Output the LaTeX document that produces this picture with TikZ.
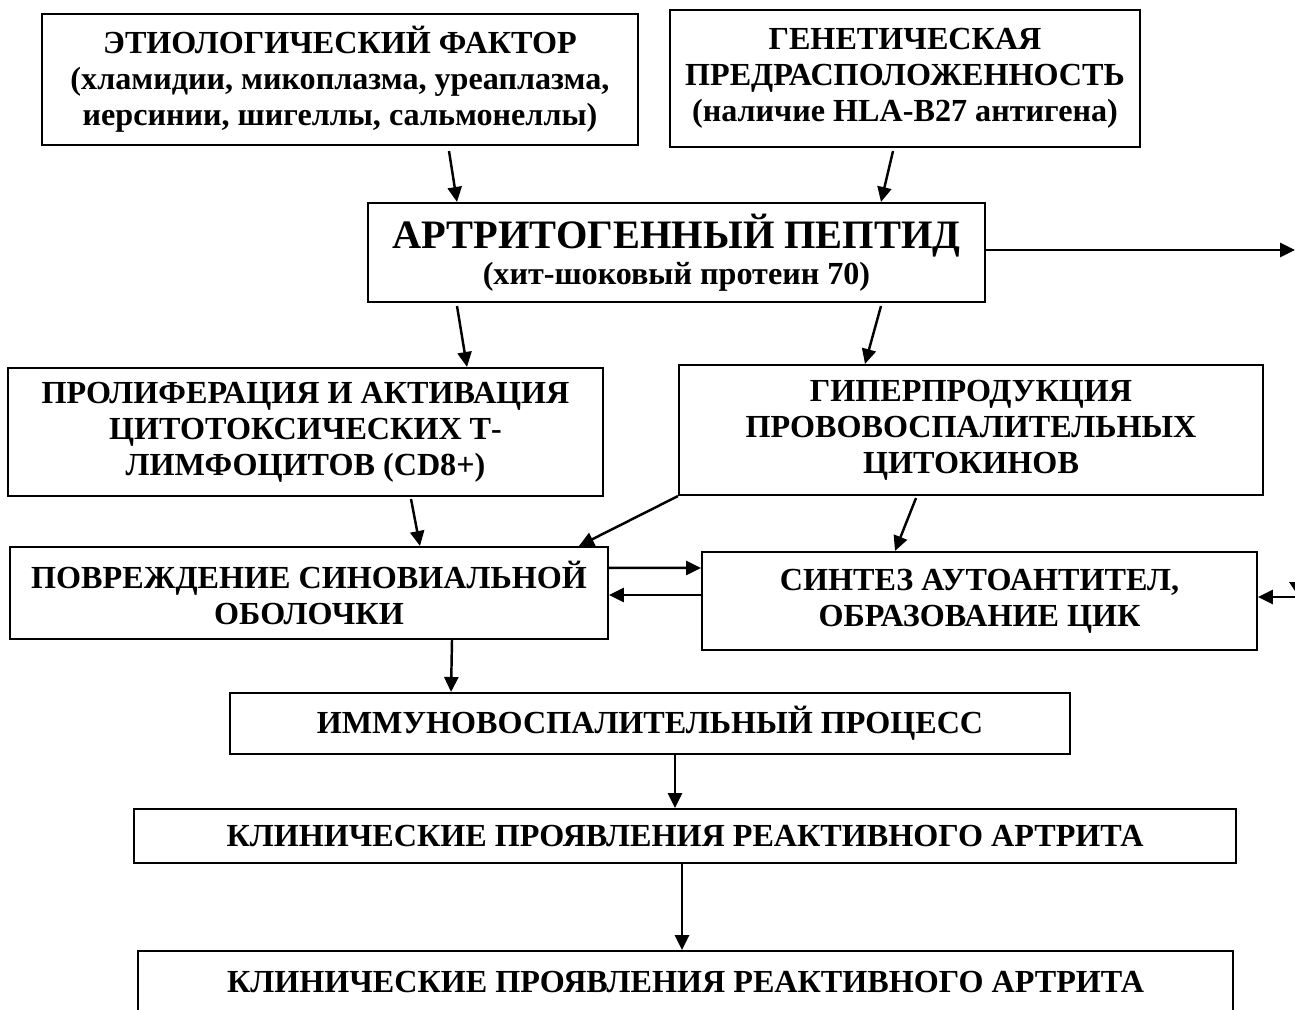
\documentclass[tikz,border=0pt]{standalone}
\usepackage{fontspec}
\setmainfont{Liberation Serif}
\usetikzlibrary{arrows.meta, calc, positioning}

\begin{document}
\begin{tikzpicture}[x=0.02cm, y=-0.02cm,
  box/.style={draw, line width=1.2pt, inner sep=0pt, align=center,
    font=\fontsize{18.3}{20.6}\selectfont\bfseries},
  arr/.style={line width=1.4pt, -{Triangle[length=8.5pt, width=8pt]}}]

\useasboundingbox (0,0) rectangle (1295,1010);
\clip (0,0) rectangle (1295,1010);

% top row
\node[box, minimum width=11.92cm, minimum height=2.62cm] (etio) at (340,79.5)
  {ЭТИОЛОГИЧЕСКИЙ ФАКТОР\\(хламидии, микоплазма, уреаплазма,\\иерсинии, шигеллы, сальмонеллы)};
\node[box, minimum width=9.4cm, minimum height=2.74cm] (gen) at (905,78.5)
  {ГЕНЕТИЧЕСКАЯ\\ПРЕДРАСПОЛОЖЕННОСТЬ\\(наличие HLA-B27 антигена)};
\node[box, minimum width=12.34cm, minimum height=1.98cm] (pept) at (676.5,252.5)
  {{\fontsize{23}{28}\selectfont АРТРИТОГЕННЫЙ ПЕПТИД}\\(хит-шоковый протеин 70)};

% middle
\node[box, minimum width=11.9cm, minimum height=2.56cm] (prolif) at (305.5,432)
  {ПРОЛИФЕРАЦИЯ И АКТИВАЦИЯ\\ЦИТОТОКСИЧЕСКИХ Т-\\ЛИМФОЦИТОВ (CD8+)};
\node[box, minimum width=11.68cm, minimum height=2.6cm] (hyper) at (971,430)
  {ГИПЕРПРОДУКЦИЯ\\ПРОВОВОСПАЛИТЕЛЬНЫХ\\ЦИТОКИНОВ};
\node[box, minimum width=11.96cm, minimum height=1.84cm] (damage) at (309,593)
  {ПОВРЕЖДЕНИЕ СИНОВИАЛЬНОЙ\\ОБОЛОЧКИ};
\node[box, minimum width=11.1cm, minimum height=1.96cm] (synth) at (979.5,601)
  {СИНТЕЗ АУТОАНТИТЕЛ,\\ОБРАЗОВАНИЕ ЦИК};

% bottom
\node[box, minimum width=16.8cm, minimum height=1.22cm] (immun) at (650,723.5)
  {ИММУНОВОСПАЛИТЕЛЬНЫЙ ПРОЦЕСС};
\node[box, minimum width=22.04cm, minimum height=1.08cm] (clin1) at (685,836)
  {КЛИНИЧЕСКИЕ ПРОЯВЛЕНИЯ РЕАКТИВНОГО АРТРИТА};
\node[box, minimum width=21.9cm, minimum height=1.24cm] (clin2) at (685.5,982)
  {КЛИНИЧЕСКИЕ ПРОЯВЛЕНИЯ РЕАКТИВНОГО АРТРИТА};

\coordinate (outR) at (1295,250);
\coordinate (inR) at (1295,597);

\draw[arr] ($(etio.south)+(109,5)$) -- ($(pept.north west)+(90,0)$);
\draw[arr] ($(gen.south)+(-12,3)$) -- ($(pept.north east)+(-105,0)$);
\draw[arr] (pept.east |- outR) -- (outR);
\draw[arr] ($(pept.south west)+(90,3)$) -- ($(prolif.north east)+(-137,0)$);
\draw[arr] ($(pept.south east)+(-105,3)$) -- ($(hyper.north west)+(187,0)$);
\draw[arr] ($(prolif.south)+(105.5,2)$) -- ($(damage.north)+(111,0)$);
\draw[arr] (hyper.south west) -- ($(damage.north east)+(-30,0)$);
\draw[arr] ($(hyper.south)+(-55,2)$) -- ($(synth.north)+(-84.5,0)$);
\draw[arr] ($(damage.north east)+(0,22)$) -- ($(synth.north west)+(0,17)$);
\draw[arr] ($(synth.west)+(0,-6)$) -- ($(damage.east)+(0,2)$);
\draw[arr] (inR) -- (synth.east |- inR);
\draw[arr] ($(damage.south)+(143,0)$) -- ($(immun.north west)+(222,0)$);
\draw[arr] ($(immun.south)+(25,0)$) -- ($(clin1.north)+(-10,0)$);
\draw[arr] ($(clin1.south)+(-3,0)$) -- ($(clin2.north)+(-3.5,0)$);
% cut-off tip at the right edge
\fill (1289,582) -- (1295,582) -- (1295,591) -- cycle;

\end{tikzpicture}
\end{document}
